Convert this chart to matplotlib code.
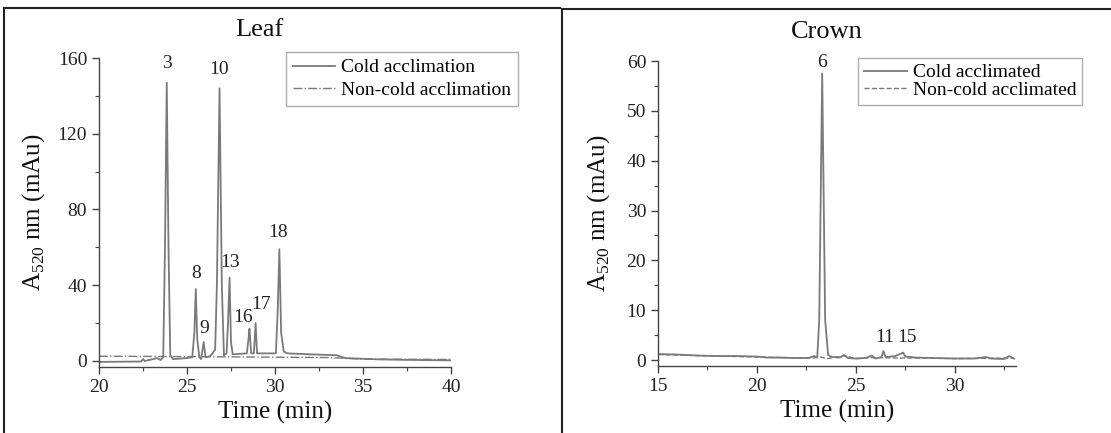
import matplotlib
matplotlib.use("Agg")
import matplotlib.pyplot as plt
from matplotlib.ticker import MultipleLocator
from matplotlib.lines import Line2D

plt.rcParams['font.family'] = ['Liberation Serif', 'DejaVu Serif']
plt.rcParams['mathtext.fontset'] = 'custom'
plt.rcParams['mathtext.rm'] = 'Liberation Serif'

# Leaf chromatogram (time in min, absorbance in mAu)
leaf_cold_t = [20.0, 22.4, 22.5, 22.6, 23.0, 23.3, 23.5, 23.65, 23.75, 23.85, 23.95, 24.05, 24.2,
               25.0, 25.3, 25.42, 25.5, 25.58, 25.7, 25.8, 25.95, 26.05, 26.3, 26.45, 26.6, 26.7,
               26.85, 26.98, 27.1, 27.25, 27.33, 27.42, 27.5, 27.6, 28.4, 28.5, 28.55, 28.65, 28.8,
               28.9, 28.98, 30.05, 30.15, 30.25, 30.35, 30.5, 30.7, 32.0, 33.5, 34.0, 36.0, 38.0, 40.0]
leaf_cold_a = [-0.5, -0.3, 1.0, 0.0, 0.8, 1.5, 0.5, 2.0, 60, 147, 60, 3.0, 1.0,
               1.5, 2.0, 15, 38, 12, 2.0, 1.0, 10, 2.0, 2.5, 4.0, 6.0, 40,
               144, 40, 3.0, 4.0, 20, 44, 10, 3.5, 4.0, 12, 17, 4.0, 4.0,
               20, 4.0, 4.0, 25, 59, 15, 5.0, 4.0, 3.5, 3.0, 1.5, 0.8, 0.5, 0.3]
leaf_ctrl_t = [20.0, 25.0, 30.0, 33.0, 35.0, 40.0]
leaf_ctrl_a = [2.5, 2.3, 2.0, 1.8, 1.0, 0.8]
leaf_peaks = ['3', '8', '9', '10', '13', '16', '17', '18']
leaf_peak_t = [23.86, 25.5, 25.97, 26.8, 27.45, 28.2, 29.2, 30.2]
leaf_peak_a = [157, 46, 17, 154, 52, 23, 29.6, 68]

# Crown chromatogram
crown_cold_t = [15.0, 16.0, 17.0, 18.0, 19.0, 20.0, 20.5, 21.0, 22.0, 22.6, 22.9, 23.05, 23.15,
                23.3, 23.45, 23.6, 23.8, 24.2, 24.4, 24.6, 25.0, 25.5, 25.8, 26.0, 26.3, 26.4,
                26.5, 27.0, 27.4, 27.5, 27.8, 28.0, 29.0, 30.0, 31.0, 31.6, 31.8, 32.5, 32.75, 33.0]
crown_cold_a = [1.2, 1.1, 0.9, 0.8, 0.8, 0.7, 0.5, 0.5, 0.4, 0.4, 0.8, 0.5, 8.0,
                57.5, 8.0, 1.0, 0.6, 0.5, 1.0, 0.4, 0.3, 0.4, 0.9, 0.3, 0.6, 1.8,
                0.6, 0.8, 1.5, 0.7, 0.6, 0.5, 0.4, 0.3, 0.3, 0.6, 0.3, 0.2, 0.8, 0.3]
crown_ctrl_t = [15.0, 20.0, 22.8, 23.2, 23.6, 24.4, 25.0, 26.0, 27.0, 28.0, 30.0, 33.0]
crown_ctrl_a = [1.1, 0.6, 0.4, 0.6, 0.3, 0.9, 0.3, 0.5, 0.4, 0.4, 0.3, 0.4]
crown_peaks = ['6', '11', '15']
crown_peak_t = [23.3, 26.45, 27.6]
crown_peak_a = [59.8, 4.6, 4.6]

grey = '#7a7a7a'
fig = plt.figure(figsize=(11.11, 4.33), dpi=100)

# panel frames like the original figure
fig.add_artist(Line2D([0.004, 0.004], [0, 0.982], color='#222', lw=1.5))
fig.add_artist(Line2D([0.004, 0.504], [0.982, 0.982], color='#222', lw=1.5))
fig.add_artist(Line2D([0.506, 0.506], [0, 0.979], color='#222', lw=1.5))
fig.add_artist(Line2D([0.506, 1.0], [0.979, 0.979], color='#222', lw=1.5))

ax1 = fig.add_axes([0.0891, 0.1524, 0.3168, 0.7136])
ax2 = fig.add_axes([0.5923, 0.1547, 0.3222, 0.7044])

def style(ax, xmaj, ymaj):
    ax.spines['top'].set_visible(False)
    ax.spines['right'].set_visible(False)
    for s in ['left', 'bottom']:
        ax.spines[s].set_color('#444')
        ax.spines[s].set_linewidth(1.0)
    ax.xaxis.set_major_locator(MultipleLocator(xmaj))
    ax.xaxis.set_minor_locator(MultipleLocator(xmaj / 2))
    ax.yaxis.set_major_locator(MultipleLocator(ymaj))
    ax.yaxis.set_minor_locator(MultipleLocator(ymaj / 2))
    ax.tick_params(which='major', direction='out', length=5, width=1, colors='#444',
                   labelsize=14, labelcolor='#222')
    ax.tick_params(which='minor', direction='out', length=3, width=0.8, colors='#444')
    ax.set_xlabel('Time (min)', fontsize=18, color='#111', labelpad=4)
    ax.set_ylabel('A$_{520}$ nm (mAu)', fontsize=18, color='#111')

leg_kw = dict(fontsize=14, frameon=True, fancybox=False, edgecolor='#999', handlelength=2.2,
              handletextpad=0.3, borderaxespad=0)

# Leaf
ax1.plot(leaf_cold_t, leaf_cold_a, color=grey, lw=1.3, label='Cold acclimation')
ax1.plot(leaf_ctrl_t, leaf_ctrl_a, color=grey, lw=1.0, ls='-.', label='Non-cold acclimation')
for lab, t, a in zip(leaf_peaks, leaf_peak_t, leaf_peak_a):
    ax1.text(t, a, lab, ha='center', va='center', fontsize=14, color='#222')
ax1.set_xlim(20, 40)
ax1.set_ylim(-3.2, 160)
style(ax1, 5, 40)
ax1.yaxis.set_label_coords(-0.147, 0.5)
fig.text(0.233, 0.93, 'Leaf', ha='center', va='center', fontsize=19, color='#111')
ax1.legend(loc='upper right', bbox_to_anchor=(0.4662, 0.880), bbox_transform=fig.transFigure,
           borderpad=0.35, labelspacing=0.25, **leg_kw)

# Crown
ax2.plot(crown_cold_t, crown_cold_a, color=grey, lw=1.3, label='Cold acclimated')
ax2.plot(crown_ctrl_t, crown_ctrl_a, color=grey, lw=1.0, ls='--', label='Non-cold acclimated')
for lab, t, a in zip(crown_peaks, crown_peak_t, crown_peak_a):
    ax2.text(t, a, lab, ha='center', va='center', fontsize=14, color='#222')
ax2.set_xlim(15, 33.1)
ax2.set_ylim(-1.2, 60)
style(ax2, 5, 10)
ax2.yaxis.set_label_coords(-0.128, 0.5)
fig.text(0.744, 0.925, 'Crown', ha='center', va='center', fontsize=19, color='#111')
ax2.legend(loc='upper right', bbox_to_anchor=(0.9739, 0.866), bbox_transform=fig.transFigure,
           borderpad=0.3, labelspacing=0.0, **leg_kw)

fig.savefig('out.png', dpi=100)
